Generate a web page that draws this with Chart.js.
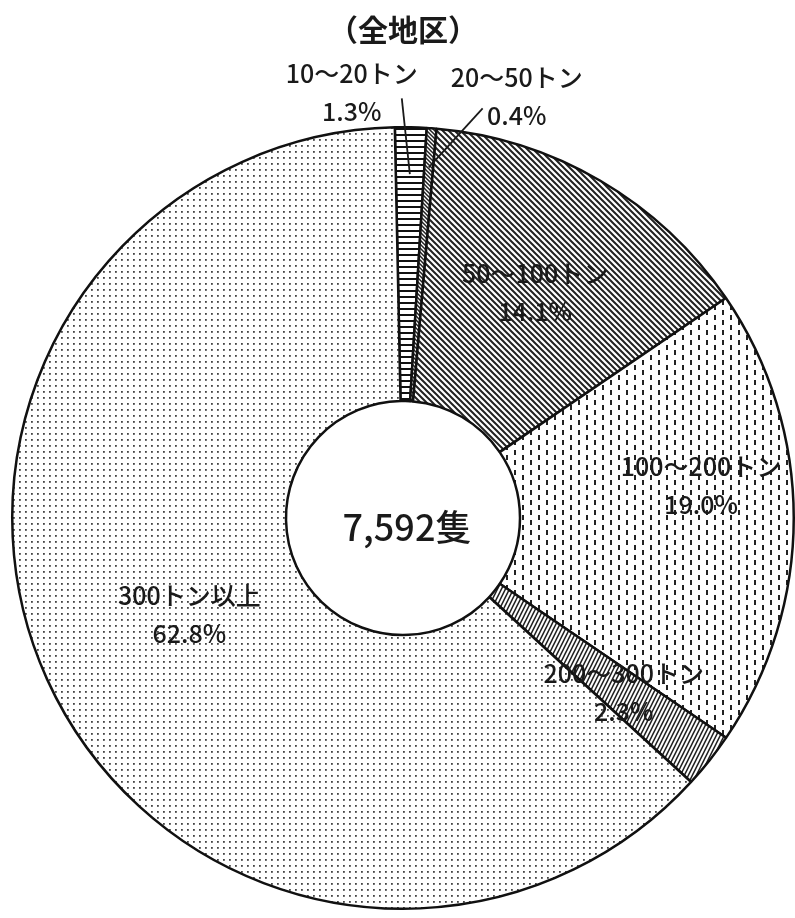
<!DOCTYPE html>
<html>
<head>
<meta charset="utf-8">
<script src="https://cdn.jsdelivr.net/npm/chart.js@4/dist/chart.umd.min.js"></script>
<style>
  html, body { margin: 0; padding: 0; background: #fff; }
  canvas { display: block; }
</style>
</head>
<body>
<canvas id="pieChart" width="795" height="918"></canvas>
<script>
// =============================
// DATA
// =============================

const title = '（全地区）';
const categories = ['10～20トン', '20～50トン', '50～100トン', '100～200トン', '200～300トン', '300トン以上'];
const shares = [1.3, 0.4, 14.1, 19.0, 2.3, 62.8];
const totalShips = 7592;
const unit = '隻';


// =============================
// PATTERNS
// =============================

function makeTile(w, h, draw) {
  const c = document.createElement('canvas');
  c.width = w;
  c.height = h;
  const g = c.getContext('2d');
  g.fillStyle = '#fff';
  g.fillRect(0, 0, w, h);
  draw(g);
  return document.createElement('canvas').getContext('2d').createPattern(c, 'repeat');
}

const hLines = makeTile(6, 6, g => {
  g.fillStyle = '#111';
  g.fillRect(0, 2, 6, 2);
});

const denseDiag = makeTile(4, 4, g => {
  g.strokeStyle = '#222';
  g.lineWidth = 1.5;
  g.beginPath();
  g.moveTo(-1, -1); g.lineTo(5, 5);
  g.moveTo(-1, 3); g.lineTo(1, 5);
  g.moveTo(3, -1); g.lineTo(5, 1);
  g.stroke();
});

const diag = makeTile(6, 6, g => {
  g.strokeStyle = '#222';
  g.lineWidth = 2;
  g.beginPath();
  g.moveTo(-1, -1); g.lineTo(7, 7);
  g.moveTo(-1, 5); g.lineTo(1, 7);
  g.moveTo(5, -1); g.lineTo(7, 1);
  g.stroke();
});

const dashes = makeTile(16, 10, g => {
  g.fillStyle = '#222';
  g.fillRect(2, 0, 2, 5);
  g.fillRect(10, 5, 2, 5);
});

const steep = makeTile(4, 8, g => {
  g.strokeStyle = '#222';
  g.lineWidth = 1.5;
  g.beginPath();
  g.moveTo(-0.5, 9); g.lineTo(4.5, -1);
  g.moveTo(-4.5, 9); g.lineTo(0.5, -1);
  g.moveTo(3.5, 9); g.lineTo(8.5, -1);
  g.stroke();
});

const dots = makeTile(6, 6, g => {
  g.fillStyle = '#444';
  g.fillRect(1, 1, 1.8, 1.8);
});

const fills = [hLines, denseDiag, diag, dashes, steep, dots];


// =============================
// LABEL PLUGIN
// =============================

// [radius factor, dx, dy] for each label, anchored on the slice middle
const labelPlace = [
  [1.0, -59, -35],
  [1.0, 85, -32],
  [0.67, 0, 0],
  [0.75, 5, -32],
  [0.72, 0, 0],
  [0.6, 0, 0]
];

// leader lines: [label dx, label dy, radius factor of end]
const leaders = [
  [50, 6, 0.88],
  [-34, 12, 0.9]
];

const labelPlugin = {
  id: 'labels',
  afterDatasetsDraw(chart) {
    const ctx = chart.ctx;
    const arcs = chart.getDatasetMeta(0).data;

    ctx.save();
    ctx.fillStyle = '#1a1a1a';
    ctx.strokeStyle = '#1a1a1a';
    ctx.textAlign = 'center';
    ctx.textBaseline = 'middle';

    arcs.forEach((arc, i) => {
      const p = arc.getProps(['x', 'y', 'startAngle', 'endAngle', 'outerRadius'], true);
      const mid = (p.startAngle + p.endAngle) / 2;
      const r = p.outerRadius * labelPlace[i][0];
      const lx = p.x + Math.cos(mid) * r + labelPlace[i][1];
      const ly = p.y + Math.sin(mid) * r + labelPlace[i][2];

      ctx.font = '500 25px "Noto Sans CJK JP"';
      ctx.fillText(categories[i], lx, ly - 19);
      ctx.fillText(shares[i].toFixed(1) + '%', lx, ly + 19);

      if (leaders[i]) {
        const er = p.outerRadius * leaders[i][2];
        ctx.lineWidth = 1.8;
        ctx.beginPath();
        ctx.moveTo(lx + leaders[i][0], ly + leaders[i][1]);
        ctx.lineTo(p.x + Math.cos(mid) * er, p.y + Math.sin(mid) * er);
        ctx.stroke();
      }
    });

    const c = arcs[0].getProps(['x', 'y'], true);
    ctx.font = '500 36px "Noto Sans CJK JP"';
    ctx.fillText(totalShips.toLocaleString('en-US') + unit, c.x + 4, c.y + 9);

    ctx.font = 'bold 30px "Noto Sans CJK JP"';
    ctx.fillText(title, c.x, 30);

    ctx.restore();
  }
};


// =============================
// DOUGHNUT CHART
// =============================

new Chart(document.getElementById('pieChart'), {

  type: 'doughnut',

  data: {
    labels: categories,
    datasets: [{
      data: shares,
      backgroundColor: fills,
      borderColor: '#111',
      borderWidth: 2.5
    }]
  },

  options: {
    responsive: false,
    animation: false,
    devicePixelRatio: 1,
    rotation: -1.2,
    cutout: 117,
    layout: {
      padding: { left: 11, right: 0, top: 126, bottom: 8 }
    },
    plugins: {
      legend: { display: false },
      tooltip: { enabled: false }
    }
  },

  plugins: [labelPlugin]

});
</script>
</body>
</html>
